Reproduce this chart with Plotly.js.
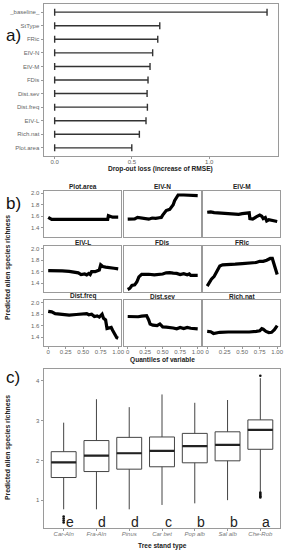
<!DOCTYPE html>
<html><head><meta charset="utf-8">
<script src="https://cdn.plot.ly/plotly-3.0.1.min.js"></script>
<style>html,body{margin:0;padding:0;background:#fff}#chart{width:288px;height:550px}</style>
</head><body><div id="chart"></div>
<script>
// ---------- Panel a: variable importance ----------
const impVars = ['_baseline_','StType','FRic','EIV-N','EIV-M','FDis','Dist.sev','Dist.freq','EIV-L','Rich.nat','Plot.area'];
const impLoss = [1.374, 0.680, 0.667, 0.634, 0.617, 0.604, 0.598, 0.600, 0.591, 0.548, 0.499];
const impTicks = [0, 0.5, 1];
const impTickText = ['0.0','0.5','1.0'];

// ---------- Panel b: partial dependence ----------
const pdNames = ['Plot.area','EIV-N','EIV-M','EIV-L','FDis','FRic','Dist.freq','Dist.sev','Rich.nat'];
const pdPlotAreaX = [0,0.02,0.05,0.2,0.4,0.6,0.8,0.85,0.86,0.9,0.92,1.0];
const pdPlotAreaY = [1.58,1.57,1.545,1.545,1.545,1.545,1.545,1.545,1.61,1.60,1.585,1.585];
const pdEivNX = [0,0.05,0.1,0.14,0.2,0.25,0.3,0.35,0.4,0.45,0.48,0.5,0.52,0.55,0.6,0.62,0.65,0.67,0.7,0.72,0.8,0.85,0.9,0.95,1.0];
const pdEivNY = [1.55,1.55,1.555,1.58,1.565,1.56,1.55,1.57,1.565,1.575,1.58,1.62,1.66,1.70,1.72,1.76,1.80,1.87,1.95,1.97,1.97,1.965,1.97,1.965,1.96];
const pdEivMX = [0,0.05,0.1,0.2,0.3,0.4,0.45,0.5,0.55,0.6,0.61,0.65,0.7,0.75,0.78,0.8,0.83,0.85,0.88,0.92,1.0];
const pdEivMY = [1.67,1.675,1.665,1.655,1.645,1.635,1.635,1.645,1.65,1.66,1.56,1.55,1.59,1.62,1.60,1.56,1.58,1.52,1.54,1.53,1.51];
const pdEivLX = [0,0.1,0.2,0.3,0.35,0.4,0.43,0.47,0.52,0.55,0.58,0.6,0.62,0.67,0.7,0.73,0.75,0.78,0.82,0.88,0.94,1.0];
const pdEivLY = [1.62,1.62,1.615,1.605,1.60,1.595,1.58,1.55,1.56,1.545,1.57,1.55,1.60,1.60,1.61,1.63,1.72,1.69,1.68,1.665,1.66,1.65];
const pdFDisX = [0,0.03,0.06,0.1,0.13,0.16,0.2,0.25,0.3,0.38,0.45,0.5,0.55,0.6,0.65,0.7,0.75,0.8,0.85,0.88,0.9,1.0];
const pdFDisY = [1.29,1.31,1.36,1.37,1.42,1.51,1.555,1.56,1.555,1.545,1.55,1.56,1.58,1.585,1.575,1.57,1.55,1.565,1.545,1.56,1.535,1.535];
const pdFRicX = [0,0.03,0.06,0.1,0.14,0.18,0.22,0.3,0.4,0.5,0.6,0.7,0.75,0.8,0.85,0.9,0.93,0.95,0.98,1.0];
const pdFRicY = [1.35,1.42,1.47,1.52,1.62,1.70,1.72,1.72,1.73,1.74,1.75,1.76,1.78,1.78,1.80,1.83,1.83,1.75,1.65,1.55];
const pdDistFreqX = [0,0.05,0.1,0.2,0.3,0.4,0.5,0.55,0.58,0.62,0.66,0.7,0.73,0.77,0.79,0.82,0.84,0.88,0.9,0.92,0.95,0.98,1.0];
const pdDistFreqY = [1.85,1.84,1.81,1.795,1.785,1.795,1.81,1.81,1.79,1.80,1.76,1.77,1.75,1.80,1.73,1.70,1.55,1.56,1.57,1.52,1.46,1.39,1.38];
const pdDistSevX = [0,0.05,0.1,0.15,0.2,0.27,0.3,0.32,0.36,0.42,0.46,0.5,0.55,0.6,0.65,0.7,0.75,0.8,0.85,0.9,1.0];
const pdDistSevY = [1.76,1.755,1.75,1.755,1.765,1.775,1.70,1.63,1.61,1.60,1.63,1.58,1.575,1.57,1.56,1.545,1.57,1.55,1.57,1.555,1.545];
const pdRichNatX = [0,0.05,0.09,0.12,0.18,0.3,0.4,0.5,0.6,0.7,0.75,0.78,0.8,0.84,0.88,0.92,0.96,1.0];
const pdRichNatY = [1.50,1.495,1.465,1.47,1.485,1.49,1.49,1.485,1.49,1.50,1.51,1.55,1.54,1.50,1.48,1.485,1.53,1.60];
const pdX = [pdPlotAreaX,pdEivNX,pdEivMX,pdEivLX,pdFDisX,pdFRicX,pdDistFreqX,pdDistSevX,pdRichNatX];
const pdY = [pdPlotAreaY,pdEivNY,pdEivMY,pdEivLY,pdFDisY,pdFRicY,pdDistFreqY,pdDistSevY,pdRichNatY];
const pdXTicks = [0,0.25,0.5,0.75,1];
const pdXTickText = ['0','0.25','0.50','0.75','1.00'];
const pdYTicks = [1.4,1.6,1.8,2.0];
const pdYTickText = ['1.4','1.6','1.8','2.0'];

// ---------- Panel c: boxplots ----------
const standTypes = ['Car-Aln','Fra-Aln','Pinus','Car bet','Pop alb','Sal alb','Che-Rob'];
const boxLower  = [0.77, 0.77, 0.77, 0.88, 0.92, 1.00, 1.21];
const boxQ1     = [1.57, 1.72, 1.78, 1.84, 1.94, 1.99, 2.28];
const boxMedian = [1.95, 2.12, 2.18, 2.24, 2.36, 2.39, 2.77];
const boxQ3     = [2.22, 2.50, 2.58, 2.59, 2.68, 2.72, 3.02];
const boxUpper  = [2.95, 3.54, 3.34, 3.66, 3.45, 3.52, 4.07];
const outlierStand = ['Car-Aln','Car-Aln','Car-Aln','Car-Aln','Che-Rob','Che-Rob','Che-Rob','Che-Rob','Che-Rob','Che-Rob'];
const outlierValue = [0.44, 0.49, 0.54, 0.59, 1.07, 1.10, 1.13, 1.16, 1.19, 4.13];
const groupLetters = ['e','d','d','c','b','b','a'];
const boxYTicks = [1,2,3,4];

// ---------- layout helpers ----------
const W = 288, H = 550;
const dx = (a,b) => [a/W, b/W];
const dy = (top,bot) => [1-bot/H, 1-top/H];
const frame = {showline:true, mirror:true, linecolor:'#9a9a9a', linewidth:1, showgrid:false, zeroline:false};
const tickStyle = {ticks:'outside', ticklen:2.5, tickcolor:'#9a9a9a', tickwidth:1, tickfont:{size:6, color:'#666'}};
const xTickStyle = {ticklen:2, ticklabelstandoff:-2};
const FONT = 'Liberation Sans, Arial, sans-serif';

const traces = [];
const layout = {
  width: W, height: H, margin:{l:0,r:0,t:0,b:0}, showlegend:false,
  paper_bgcolor:'#fff', plot_bgcolor:'#fff', font:{family:FONT},
  annotations: []
};
function label(px, py, text, size, extra) {
  layout.annotations.push(Object.assign({xref:'paper', yref:'paper', x:px/W, y:1-py/H, text:text,
    xanchor:'center', yanchor:'middle', showarrow:false, font:{size:size, color:'#222'}}, extra || {}));
}

// Panel a
traces.push({
  type:'scatter', mode:'markers', x: impLoss.map(() => 0), y: impVars, xaxis:'x', yaxis:'y',
  marker:{size:1, opacity:0}, hoverinfo:'skip',
  error_x:{type:'data', symmetric:false, array: impLoss, arrayminus: impLoss.map(() => 0),
           width:3.5, thickness:1.4, color:'#333'}
});
layout.xaxis = Object.assign({}, frame, tickStyle, xTickStyle, {domain: dx(44,277.7), anchor:'y', range:[-0.069,1.443],
  tickvals: impTicks, ticktext: impTickText});
layout.yaxis = Object.assign({}, frame, tickStyle, {domain: dy(4,156), anchor:'x', type:'category',
  categoryorder:'array', categoryarray: impVars, range:[10.6,-0.6]});
label(160, 169.5, '<b>Drop-out loss (increase of RMSE)</b>', 6.6);
label(4, 36, 'a)', 17, {xanchor:'left', font:{size:17, color:'#111'}});

// Panel b
const cols = [[44,121],[123.5,200.5],[203,280]];
const rows = [[190.7,236.7],[246.1,292.1],[300.1,346.1]];
for (let i = 0; i < 9; i++) {
  const r = Math.floor(i/3), c = i % 3, n = i + 2;
  traces.push({type:'scatter', mode:'lines', x: pdX[i], y: pdY[i], xaxis:'x'+n, yaxis:'y'+n,
    line:{color:'#000', width:3.2}, hoverinfo:'skip'});
  layout['xaxis'+n] = Object.assign({}, frame, tickStyle, xTickStyle, {domain: dx(cols[c][0], cols[c][1]), anchor:'y'+n,
    range:[-0.06,1.04], tickvals: pdXTicks, ticktext: pdXTickText,
    showticklabels: r === 2, ticks: r === 2 ? 'outside' : ''});
  layout['yaxis'+n] = Object.assign({}, frame, tickStyle, {domain: dy(rows[r][0], rows[r][1]), anchor:'x'+n,
    range:[1.245,2.045], tickvals: pdYTicks, ticktext: pdYTickText,
    showticklabels: c === 0, ticks: c === 0 ? 'outside' : ''});
  label((cols[c][0]+cols[c][1])/2, rows[r][0]-4, '<b>'+pdNames[i]+'</b>', 6.5);
}
label(162, 360.5, '<b>Quantiles of variable</b>', 6.6);
label(8, 268, '<b>Predicted alien species richness</b>', 6.8, {textangle:-90});
label(4, 204, 'b)', 17, {xanchor:'left', font:{size:17, color:'#111'}});

// Panel c
traces.push({type:'box', x: standTypes, q1: boxQ1, median: boxMedian, q3: boxQ3,
  lowerfence: boxLower, upperfence: boxUpper, xaxis:'x11', yaxis:'y11', width:0.76,
  fillcolor:'#fff', line:{color:'#444', width:1}, whiskerwidth:0, boxpoints:false, hoverinfo:'skip'});
traces.push({type:'box', x: standTypes, q1: boxMedian, median: boxMedian, q3: boxMedian,
  lowerfence: boxMedian, upperfence: boxMedian, xaxis:'x11', yaxis:'y11', width:0.76,
  fillcolor:'rgba(0,0,0,0)', line:{color:'#222', width:2.2}, whiskerwidth:0, boxpoints:false, hoverinfo:'skip'});
traces.push({type:'scatter', mode:'markers', x: outlierStand, y: outlierValue, xaxis:'x11', yaxis:'y11',
  marker:{size:2.6, color:'#111'}, hoverinfo:'skip'});
layout.xaxis11 = Object.assign({}, frame, tickStyle, xTickStyle, {domain: dx(44,280), anchor:'y11', type:'category',
  categoryorder:'array', categoryarray: standTypes, range:[-0.6,6.6],
  tickfont:{size:6, color:'#777', style:'italic'}});
layout.yaxis11 = Object.assign({}, frame, tickStyle, {domain: dy(369,528), anchor:'x11', range:[0.3,4.3],
  tickvals: boxYTicks});
standTypes.forEach((s, i) => {
  layout.annotations.push({xref:'x11', yref:'y11', x: s, y: 0.46, xshift: 6, text: groupLetters[i],
    xanchor:'center', yanchor:'middle', showarrow:false, font:{size:14, color:'#222'}});
});
label(162, 545.5, '<b>Tree stand type</b>', 6.6);
label(8, 448, '<b>Predicted alien species richness</b>', 6.8, {textangle:-90});
label(4, 377, 'c)', 17, {xanchor:'left', font:{size:17, color:'#111'}});

Plotly.newPlot('chart', traces, layout, {staticPlot:true, displayModeBar:false});
</script></body></html>
